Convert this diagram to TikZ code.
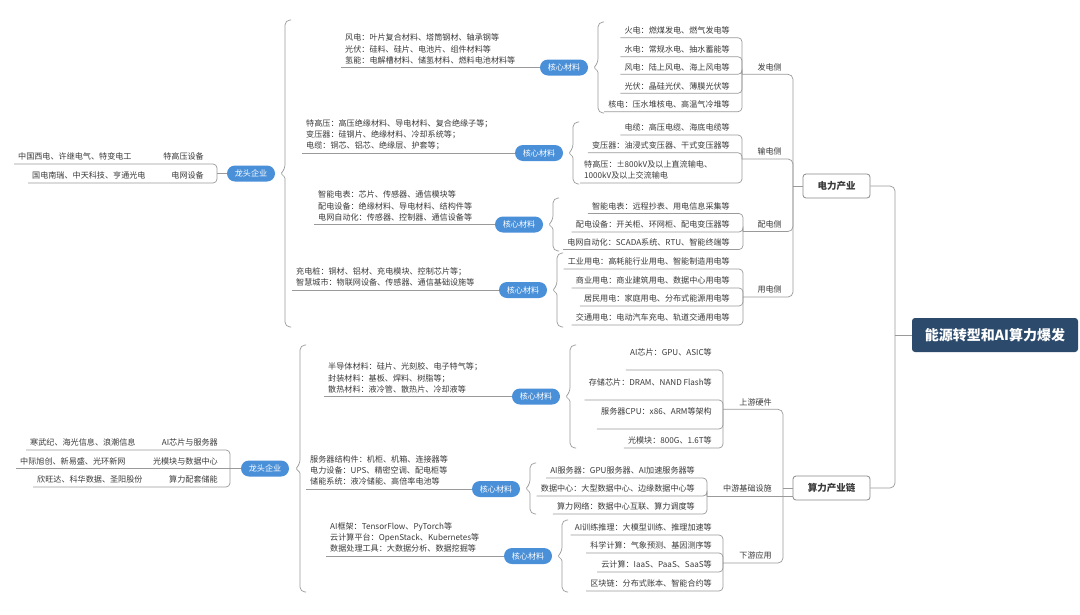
\documentclass[tikz,border=0pt]{standalone}
\usepackage{fontspec}
\setmainfont{Noto Sans CJK SC}
\usetikzlibrary{calc}
\definecolor{txt}{HTML}{3A3A3A}
\definecolor{linegray}{HTML}{9A9A9A}
\definecolor{pillblue}{HTML}{4A90D9}
\definecolor{rootblue}{HTML}{2C4A6B}
\definecolor{boxgray}{HTML}{8A8A8A}
\newcommand\lf{\fontsize{8.1}{11.2}\selectfont}
\newcommand\bracepath[4]{%
  \draw[conn, rounded corners=5pt] (#1+6,#2) -- (#1,#2) -- (#1,#4-4) [rounded corners=1pt] -- (#1-4,#4) -- (#1,#4+4) [rounded corners=5pt] -- (#1,#3) -- (#1+6,#3);}
\newcommand\leafR[6][]{%
  \node[leaf, anchor=south east, #1] (#2) at (#3,#4) {#6};
  \draw[conn, rounded corners=4pt] (#5) |- (#2.south west);}
\tikzset{
  conn/.style={draw=linegray, line width=0.7pt},
  leaf/.style={font=\lf, text=txt, inner xsep=4pt, inner ysep=2pt, text height=7pt, text depth=2pt},
  raised/.style={inner ysep=11.9pt},
  mat/.style={leaf, align=left},
  pill/.style={fill=pillblue, text=white, rounded corners=8pt, minimum width=48pt, minimum height=16pt, inner sep=0pt, font=\lf},
  cat/.style={draw=boxgray, rounded corners=3pt, fill=white, text=txt, font=\fontsize{9.5}{11}\selectfont\bfseries, line width=0.8pt, inner sep=0pt, minimum height=24pt},
  rootbox/.style={fill=rootblue, text=white, rounded corners=3pt, font=\fontsize{14}{16}\selectfont\bfseries, minimum width=166pt, minimum height=34pt, inner sep=0pt}
}
\begin{document}
\begin{tikzpicture}[x=1pt,y=-1pt]
\useasboundingbox (0,0) rectangle (1080,614);
\fill[white] (0,0) rectangle (1080,614);

% root and categories
\node[rootbox] (R) at (995,335) {能源转型和AI算力爆发};
\node[cat, minimum width=67pt] (E) at (836.5,186) {电力产业};
\node[cat, minimum width=77pt] (S) at (831.5,488) {算力产业链};
\coordinate (rj) at (895,335);
\draw[conn] (R.west) -- (rj);
\draw[conn, rounded corners=5pt] (rj) |- (E.east);
\draw[conn, rounded corners=5pt] (rj) |- (S.east);

% ===== 电力产业 =====
\coordinate (ej) at (793,186);
\draw[conn] (E.west) -- (ej);
\coordinate (jA) at (742,74.3);
\coordinate (jB) at (742,159);
\coordinate (jC) at (743,231.5);
\coordinate (jD) at (743,297);
\draw[conn, rounded corners=5pt] (ej) |- (jA);
\draw[conn, rounded corners=5pt] (ej) |- (jB);
\draw[conn, rounded corners=5pt] (ej) |- (jC);
\draw[conn, rounded corners=5pt] (ej) |- (jD);
\node[leaf, anchor=south east] (pA) at (786,74.3) {发电侧};
\node[leaf, anchor=south east] (pB) at (786,159) {输电侧};
\node[leaf, anchor=south east] (pC) at (786,231.5) {配电侧};
\node[leaf, anchor=south east] (pD) at (786,297) {用电侧};

\leafR{a1}{734}{37.7}{jA}{火电：燃煤发电、燃气发电等}
\leafR{a2}{734}{56.7}{jA}{水电：常规水电、抽水蓄能等}
\leafR{a3}{734}{74.3}{jA}{风电：陆上风电、海上风电等}
\leafR{a4}{734}{93.3}{jA}{光伏：晶硅光伏、薄膜光伏等}
\leafR{a5}{734}{111.7}{jA}{核电：压水堆核电、高温气冷堆等}

\leafR{b1}{734}{135}{jB}{电缆：高压电缆、海底电缆等}
\leafR{b2}{734}{152.7}{jB}{变压器：油浸式变压器、干式变压器等}
\node[leaf, align=left, anchor=south west] (b3) at (580,183) {特高压：±800kV及以上直流输电、\\1000kV及以上交流输电};
\draw[conn, rounded corners=4pt] (jB) |- (b3.south west);

\leafR{c1}{734}{213.5}{jC}{智能电表：远程抄表、用电信息采集等}
\leafR{c2}{734}{232}{jC}{配电设备：开关柜、环网柜、配电变压器等}
\leafR{c3}{734}{249.5}{jC}{电网自动化：SCADA系统、RTU、智能终端等}

\leafR{d1}{734}{269}{jD}{工业用电：高耗能行业用电、智能制造用电等}
\leafR{d2}{734}{288}{jD}{商业用电：商业建筑用电、数据中心用电等}
\leafR{d3}{734}{306}{jD}{居民用电：家庭用电、分布式能源用电等}
\leafR{d4}{734}{325}{jD}{交通用电：电动汽车充电、轨道交通用电等}

\bracepath{598}{22}{113}{67.5}
\bracepath{573}{122}{184}{153}
\bracepath{553}{198}{251}{224.5}
\bracepath{557}{253}{327}{290}

\node[pill] (kA) at (564,67.5) {核心材料};
\node[pill] (kB) at (539,153) {核心材料};
\node[pill] (kC) at (519,224.5) {核心材料};
\node[pill] (kD) at (523,290) {核心材料};

\node[mat, anchor=south west] (mA) at (341,67.5) {风电：叶片复合材料、塔筒钢材、轴承钢等\\光伏：硅料、硅片、电池片、组件材料等\\氢能：电解槽材料、储氢材料、燃料电池材料等};
\node[mat, anchor=south west] (mB) at (302,153) {特高压：高压绝缘材料、导电材料、复合绝缘子等；\\变压器：硅钢片、绝缘材料、冷却系统等；\\电缆：铜芯、铝芯、绝缘层、护套等；};
\node[mat, anchor=south west] (mC) at (314,224.5) {智能电表：芯片、传感器、通信模块等\\配电设备：绝缘材料、导电材料、结构件等\\电网自动化：传感器、控制器、通信设备等};
\node[mat, anchor=south west] (mD) at (292,290) {充电桩：铜材、铝材、充电模块、控制芯片等；\\智慧城市：物联网设备、传感器、通信基础设施等};
\draw[conn] (kA.west) -- (mA.south west);
\draw[conn] (kB.west) -- (mB.south west);
\draw[conn] (kC.west) -- (mC.south west);
\draw[conn] (kD.west) -- (mD.south west);

\bracepath{285}{20}{327}{173.5}
\node[pill] (L1) at (251,173.5) {龙头企业};
\coordinate (lj1) at (217,173.5);
\draw[conn] (L1.west) -- (lj1);
\node[leaf, anchor=south east] (t1) at (208,164) {特高压设备};
\node[leaf, anchor=south west] (t1c) at (14,164) {中国西电、许继电气、特变电工};
\node[leaf, anchor=south east] (t2) at (208,183) {电网设备};
\node[leaf, anchor=south west] (t2c) at (28,183) {国电南瑞、中天科技、亨通光电};
\draw[conn, rounded corners=4pt] (lj1) |- (t1.south east) -- (t1c.south west);
\draw[conn, rounded corners=4pt] (lj1) |- (t2.south east) -- (t2c.south west);

% ===== 算力产业链 =====
\coordinate (sj) at (783,488);
\coordinate (uj) at (723,409.3);
\coordinate (mj) at (707,496);
\coordinate (dj) at (723,563);
\draw[conn] (S.west) -- (sj);
\draw[conn, rounded corners=5pt] (uj) -| (sj) |- (dj);
\draw[conn] (mj) -- (S.west |- mj);
\node[leaf, anchor=south east] (pU) at (776,409.3) {上游硬件};
\node[leaf, anchor=south east] (pM) at (776,496) {中游基础设施};
\node[leaf, anchor=south east] (pE) at (776,563) {下游应用};

\leafR[raised]{u1}{716}{370}{uj}{AI芯片：GPU、ASIC等}
\leafR[raised]{u2}{716}{400}{uj}{存储芯片：DRAM、NAND Flash等}
\leafR[raised]{u3}{716}{429}{uj}{服务器CPU：x86、ARM等架构}
\leafR{u4}{716}{448}{uj}{光模块：800G、1.6T等}

\leafR{m1}{699}{478}{mj}{AI服务器：GPU服务器、AI加速服务器等}
\leafR{m2}{699}{496}{mj}{数据中心：大型数据中心、边缘数据中心等}
\leafR{m3}{699}{514}{mj}{算力网络：数据中心互联、算力调度等}

\leafR{e1}{716}{535}{dj}{AI训练推理：大模型训练、推理加速等}
\leafR{e2}{716}{553}{dj}{科学计算：气象预测、基因测序等}
\leafR{e3}{716}{572}{dj}{云计算：IaaS、PaaS、SaaS等}
\leafR{e4}{716}{591}{dj}{区块链：分布式账本、智能合约等}

\bracepath{570}{345}{448}{396.5}
\bracepath{530}{463}{514}{488.5}
\bracepath{562}{520}{592}{556}

\node[pill] (kU) at (536,396.5) {核心材料};
\node[pill] (kM) at (496,489) {核心材料};
\node[pill] (kE) at (528,556) {核心材料};

\node[mat, anchor=south west] (mU) at (324,396.5) {半导体材料：硅片、光刻胶、电子特气等；\\封装材料：基板、焊料、树脂等；\\散热材料：液冷管、散热片、冷却液等};
\node[mat, anchor=south west] (mM) at (306,489) {服务器结构件：机柜、机箱、连接器等\\电力设备：UPS、精密空调、配电柜等\\储能系统：液冷储能、高倍率电池等};
\node[mat, anchor=south west] (mE) at (326,556) {AI框架：TensorFlow、PyTorch等\\云计算平台：OpenStack、Kubernetes等\\数据处理工具：大数据分析、数据挖掘等};
\draw[conn] (kU.west) -- (mU.south west);
\draw[conn] (kM.west) -- (mM.south west);
\draw[conn] (kE.west) -- (mE.south west);

\bracepath{300}{345}{592}{468.5}
\node[pill] (L2) at (265,468.5) {龙头企业};
\coordinate (lj2) at (230,468.5);
\draw[conn] (L2.west) -- (lj2);
\node[leaf, anchor=south east] (v1) at (222,450) {AI芯片与服务器};
\node[leaf, anchor=south west] (v1c) at (26,450) {寒武纪、海光信息、浪潮信息};
\node[leaf, anchor=south east] (v2) at (222,468.5) {光模块与数据中心};
\node[leaf, anchor=south west] (v2c) at (16,468.5) {中际旭创、新易盛、光环新网};
\node[leaf, anchor=south east] (v3) at (222,487) {算力配套储能};
\node[leaf, anchor=south west] (v3c) at (33,487) {欣旺达、科华数据、圣阳股份};
\draw[conn, rounded corners=4pt] (lj2) |- (v1.south east) -- (v1c.south west);
\draw[conn] (lj2) -- (v2.south east) -- (v2c.south west);
\draw[conn, rounded corners=4pt] (lj2) |- (v3.south east) -- (v3c.south west);
\end{tikzpicture}
\end{document}
